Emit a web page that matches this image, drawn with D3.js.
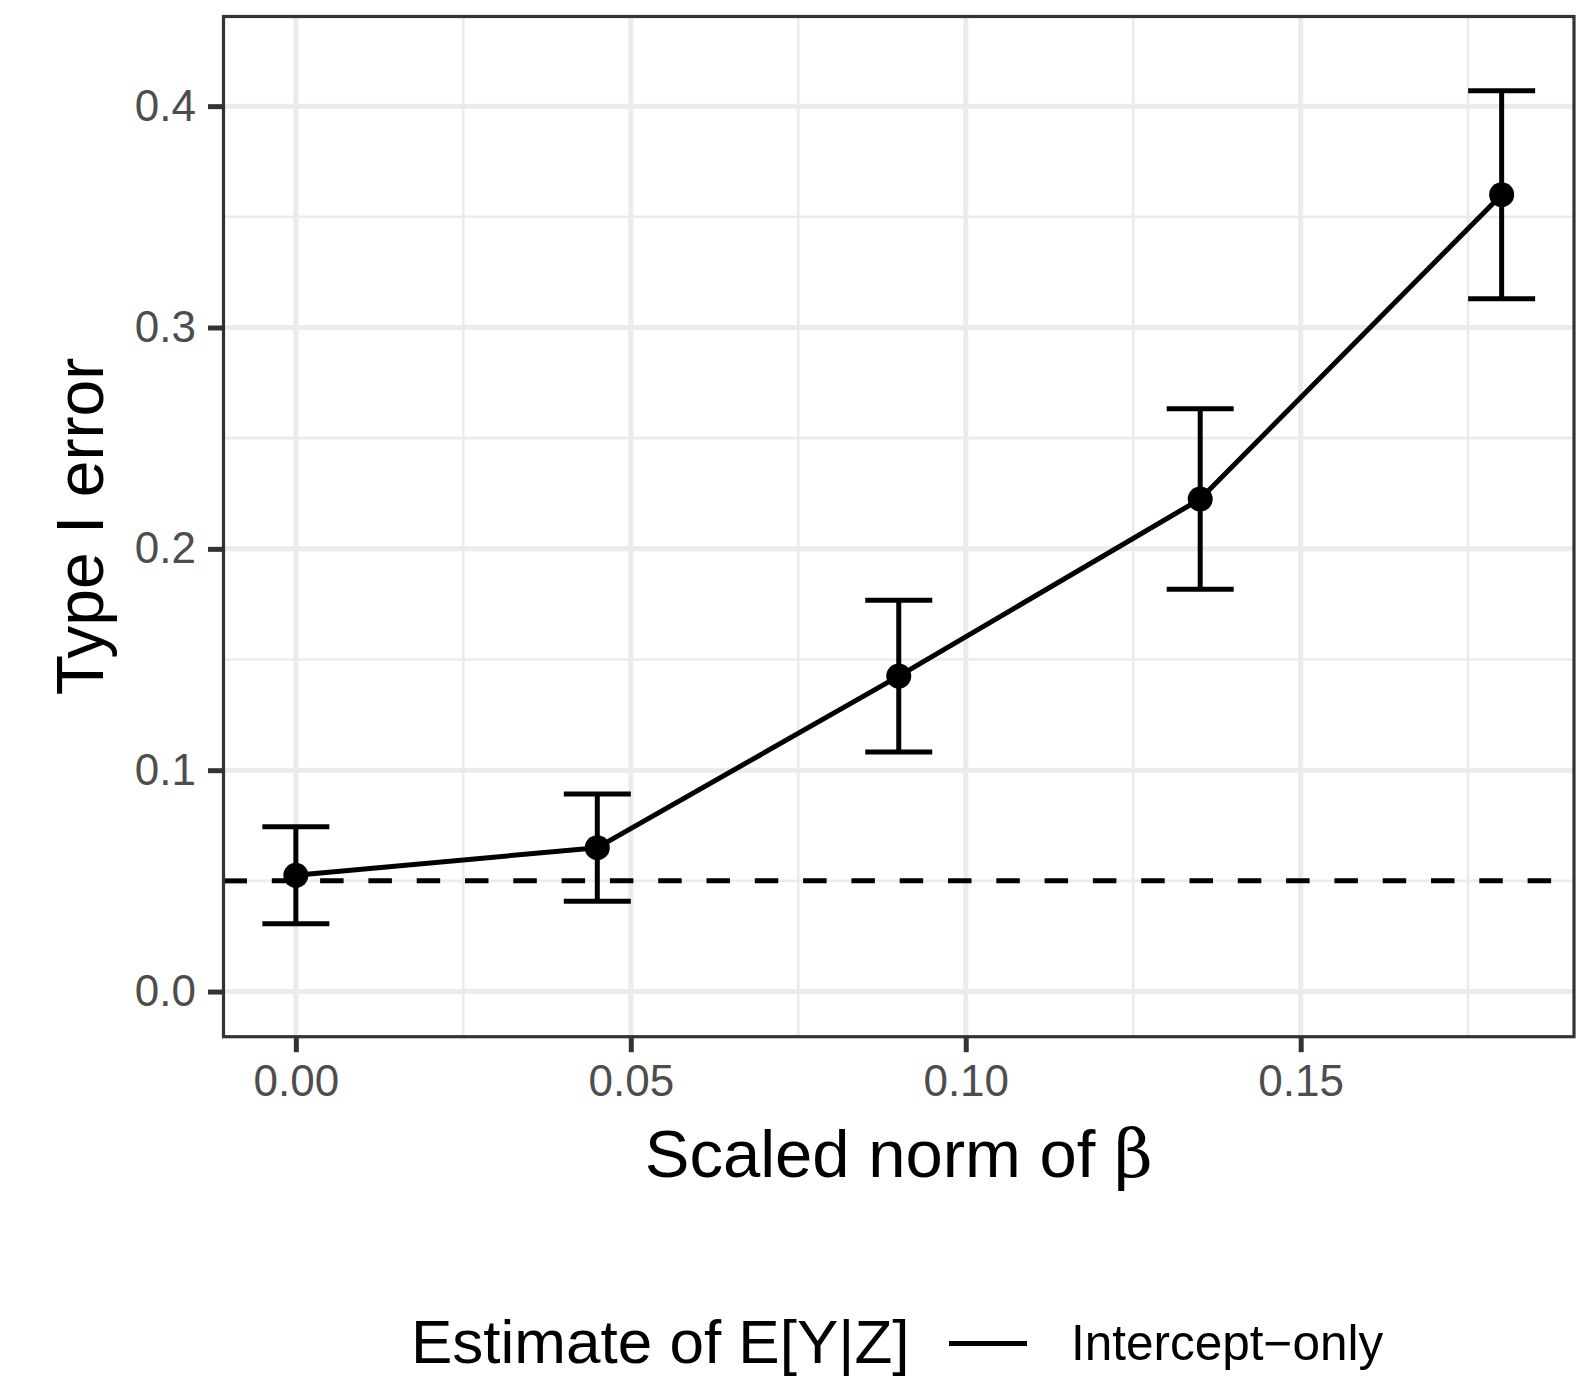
<!DOCTYPE html>
<html>
<head>
<meta charset="utf-8">
<script src="https://cdn.jsdelivr.net/npm/d3@7"></script>
<style>
  body { margin: 0; background: #fff; }
  text { font-family: "Liberation Sans", Arial, Helvetica, sans-serif; }
</style>
</head>
<body>
<div id="chart"></div>
<script>
// values
var beta = [0, 0.045, 0.09, 0.135, 0.18];
var typeI = [0.0525, 0.065, 0.1425, 0.2225, 0.36];
var lower = [0.0306, 0.0408, 0.1082, 0.1817, 0.313];
var upper = [0.0744, 0.0892, 0.1768, 0.2633, 0.407];
var nominal = 0.05;

var xTicks = [0, 0.05, 0.1, 0.15];
var xMinor = [0.025, 0.075, 0.125, 0.175];
var yTicks = [0, 0.1, 0.2, 0.3, 0.4];
var yMinor = [0.05, 0.15, 0.25, 0.35];

var legendTitle = "Estimate of E[Y|Z]";
var legendLabel = "Intercept\u2212only";

var width = 1593;
var height = 1378;

var panel = { l: 223.5, r: 1574, t: 16.5, b: 1036.7 };
var lw = 5;

var svg = d3
  .select("#chart")
  .append("svg")
  .attr("width", width)
  .attr("height", height);

var x = d3.scaleLinear().domain([-0.0108, 0.1908]).range([panel.l, panel.r]);
var y = d3.scaleLinear().domain([-0.0204, 0.4405]).range([panel.b, panel.t]);

var data = beta.map((b, i) => ({
  x: b,
  y: typeI[i],
  lo: lower[i],
  hi: upper[i],
}));

var g = svg.append("g");

// grid, minor first
g.selectAll(".ygrid-minor")
  .data(yMinor)
  .join("line")
  .attr("x1", panel.l)
  .attr("x2", panel.r)
  .attr("y1", (d) => y(d))
  .attr("y2", (d) => y(d))
  .attr("stroke", "#ebebeb")
  .attr("stroke-width", 2.6);

g.selectAll(".xgrid-minor")
  .data(xMinor)
  .join("line")
  .attr("y1", panel.t)
  .attr("y2", panel.b)
  .attr("x1", (d) => x(d))
  .attr("x2", (d) => x(d))
  .attr("stroke", "#ebebeb")
  .attr("stroke-width", 2.6);

g.selectAll(".ygrid")
  .data(yTicks)
  .join("line")
  .attr("x1", panel.l)
  .attr("x2", panel.r)
  .attr("y1", (d) => y(d))
  .attr("y2", (d) => y(d))
  .attr("stroke", "#ebebeb")
  .attr("stroke-width", 5);

g.selectAll(".xgrid")
  .data(xTicks)
  .join("line")
  .attr("y1", panel.t)
  .attr("y2", panel.b)
  .attr("x1", (d) => x(d))
  .attr("x2", (d) => x(d))
  .attr("stroke", "#ebebeb")
  .attr("stroke-width", 5);

// dashed reference line
g.append("line")
  .attr("x1", panel.l)
  .attr("x2", panel.r)
  .attr("y1", y(nominal))
  .attr("y2", y(nominal))
  .attr("stroke", "#000")
  .attr("stroke-width", lw)
  .attr("stroke-dasharray", "23.5,24.8");

// error bars
var capHalf = 0.005;
var bars = g.selectAll(".bar").data(data).join("g");
bars
  .append("line")
  .attr("x1", (d) => x(d.x))
  .attr("x2", (d) => x(d.x))
  .attr("y1", (d) => y(d.lo))
  .attr("y2", (d) => y(d.hi))
  .attr("stroke", "#000")
  .attr("stroke-width", lw);
bars
  .append("line")
  .attr("x1", (d) => x(d.x - capHalf))
  .attr("x2", (d) => x(d.x + capHalf))
  .attr("y1", (d) => y(d.lo))
  .attr("y2", (d) => y(d.lo))
  .attr("stroke", "#000")
  .attr("stroke-width", lw);
bars
  .append("line")
  .attr("x1", (d) => x(d.x - capHalf))
  .attr("x2", (d) => x(d.x + capHalf))
  .attr("y1", (d) => y(d.hi))
  .attr("y2", (d) => y(d.hi))
  .attr("stroke", "#000")
  .attr("stroke-width", lw);

// line + points
var line = d3
  .line()
  .x((d) => x(d.x))
  .y((d) => y(d.y));

g.append("path")
  .datum(data)
  .attr("d", line)
  .attr("fill", "none")
  .attr("stroke", "#000")
  .attr("stroke-width", lw)
  .attr("stroke-linejoin", "round");

g.selectAll(".pt")
  .data(data)
  .join("circle")
  .attr("cx", (d) => x(d.x))
  .attr("cy", (d) => y(d.y))
  .attr("r", 12.5)
  .attr("fill", "#000");

// panel border
svg
  .append("rect")
  .attr("x", panel.l)
  .attr("y", panel.t)
  .attr("width", panel.r - panel.l)
  .attr("height", panel.b - panel.t)
  .attr("fill", "none")
  .attr("stroke", "#333333")
  .attr("stroke-width", 3.2);

// axes
var xAxis = d3
  .axisBottom(x)
  .tickValues(xTicks)
  .tickFormat(d3.format(".2f"))
  .tickSize(15.5)
  .tickPadding(13);

var yAxis = d3
  .axisLeft(y)
  .tickValues(yTicks)
  .tickFormat(d3.format(".1f"))
  .tickSize(15.5)
  .tickPadding(12);

var gx = svg
  .append("g")
  .attr("transform", `translate(0, ${panel.b})`)
  .call(xAxis);
var gy = svg
  .append("g")
  .attr("transform", `translate(${panel.l}, 0)`)
  .call(yAxis);

[gx, gy].forEach((a) => {
  a.select(".domain").remove();
  a.selectAll(".tick line").attr("stroke", "#333333").attr("stroke-width", 5);
  a.selectAll(".tick text")
    .attr("fill", "#4d4d4d")
    .style("font-size", "44px")
    .style("font-family", '"Liberation Sans", Arial, Helvetica, sans-serif');
});

// axis titles
var xTitle = svg
  .append("text")
  .attr("x", (panel.l + panel.r) / 2)
  .attr("y", 1177)
  .attr("text-anchor", "middle")
  .style("font-size", "67px")
  .attr("fill", "#000");
xTitle.append("tspan").text("Scaled norm of ");
xTitle
  .append("tspan")
  .style("font-family", '"DejaVu Serif", "Liberation Serif", serif')
  .text("\u03b2");

svg
  .append("text")
  .attr("transform", `translate(103, ${(panel.t + panel.b) / 2}) rotate(-90)`)
  .attr("text-anchor", "middle")
  .style("font-size", "66px")
  .attr("fill", "#000")
  .text("Type I error");

// legend
var legend = svg.append("g");
legend
  .append("text")
  .attr("x", 411)
  .attr("y", 1363)
  .style("font-size", "62px")
  .attr("fill", "#000")
  .text(legendTitle);

legend
  .append("line")
  .attr("x1", 949)
  .attr("x2", 1027)
  .attr("y1", 1343.5)
  .attr("y2", 1343.5)
  .attr("stroke", "#000")
  .attr("stroke-width", lw);

legend
  .append("text")
  .attr("x", 1071)
  .attr("y", 1360)
  .style("font-size", "49.5px")
  .attr("fill", "#000")
  .text(legendLabel);
</script>
</body>
</html>
